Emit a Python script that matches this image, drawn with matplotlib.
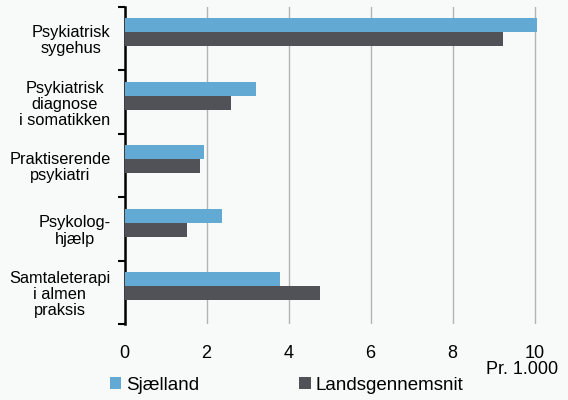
import matplotlib
matplotlib.use("Agg")
import matplotlib.pyplot as plt
import numpy as np

plt.rcParams['font.family'] = ['Liberation Sans', 'DejaVu Sans']

# data
categories = ['Psykiatrisk\nsygehus', 'Psykiatrisk\ndiagnose\ni somatikken',
              'Praktiserende\npsykiatri', 'Psykolog-\nhjælp',
              'Samtaleterapi\ni almen\npraksis']
sjaelland = [10.05, 3.2, 1.95, 2.38, 3.79]
landsgennemsnit = [9.22, 2.6, 1.83, 1.52, 4.78]
xticks = [0, 2, 4, 6, 8, 10]

blue = '#62a9d4'
grey = '#515257'
bg = '#f8f9f9'

fig = plt.figure(figsize=(5.68, 4.0), dpi=100, facecolor=bg)
ax = fig.add_axes([124.5/568, 1 - 324/400, 1 - 124.5/568, (324 - 7)/400])
ax.set_facecolor(bg)

y = np.arange(len(categories))
h = 0.22
shift = 0.1  # bars sit a little above the band centre
ax.barh(y - shift - h/2, sjaelland, height=h, color=blue, label='Sjælland', zorder=3)
ax.barh(y - shift + h/2, landsgennemsnit, height=h, color=grey, label='Landsgennemsnit', zorder=3)

ax.set_xlim(0, (568 - 124.5) / 41)
ax.set_ylim(len(categories) - 0.5, -0.5)
ax.set_xticks(xticks)
ax.set_xticklabels([str(v) for v in xticks], fontsize=13)
ax.tick_params(axis='x', length=0, pad=15)
ax.grid(axis='x', color='#b3b3b3', linewidth=1, zorder=0)

ax.set_yticks(y)
ax.set_yticklabels(categories, fontsize=11.8, ha='right', multialignment='center',
                   linespacing=1.1)
ax.tick_params(axis='y', which='major', length=0, pad=10)
ax.set_yticks(np.arange(len(categories) + 1) - 0.5, minor=True)
ax.tick_params(axis='y', which='minor', length=5, width=1.5, direction='out', color='black')

for s in ['top', 'right', 'bottom']:
    ax.spines[s].set_visible(False)
ax.spines['left'].set_linewidth(1.8)
ax.spines['left'].set_color('black')

fig.text(558/568, 1 - 370/400, 'Pr. 1.000', fontsize=13, ha='right', va='center')

fig.legend(loc='center left', bbox_to_anchor=(110/568, 1 - 385/400), ncol=2,
           frameon=False, fontsize=13.5, handlelength=0.6, handleheight=0.6,
           handletextpad=0.25, columnspacing=5.35, borderpad=0, borderaxespad=0)

fig.savefig('out.png', dpi=100, facecolor=bg)
